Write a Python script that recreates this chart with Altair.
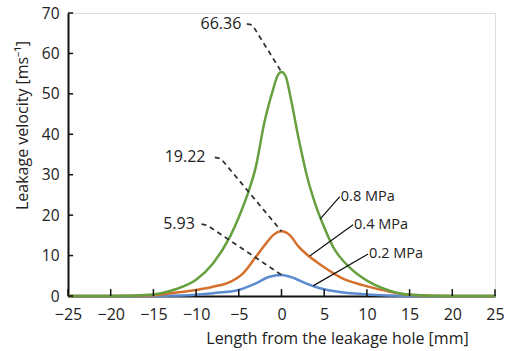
import altair as alt
import pandas as pd

# ---- data ----
x_ticks = [-25, -20, -15, -10, -5, 0, 5, 10, 15, 20, 25]
y_ticks = [0, 10, 20, 30, 40, 50, 60, 70]

series_names = ["0.2 MPa", "0.4 MPa", "0.8 MPa"]
series_colors = ["#5b8bd0", "#d5702c", "#66a03f"]

blue_x = [-25, -20, -15, -11, -8, -5, -3, -1.5, 0, 1.5, 3, 4.5, 7, 10, 15, 20, 25]
blue_y = [0, 0, 0.05, 0.2, 0.7, 1.5, 3.1, 4.7, 5.2, 4.4, 3.0, 1.9, 0.9, 0.4, 0.05, 0, 0]

orange_x = [-25, -20, -15, -12.5, -10, -8, -6, -4.5, -3, -2, -1, 0, 1, 2, 3, 4, 5, 7, 9.5, 12, 15, 20, 25]
orange_y = [0, 0, 0.2, 0.8, 1.5, 2.3, 3.5, 5.6, 9.7, 12.5, 15.0, 16.0, 15.0, 12.2, 10.2, 8.6, 7.1, 4.5, 2.7, 1.4, 0.3, 0, 0]

green_x = [-25, -20, -15, -12.5, -10, -8, -6, -5, -4, -3, -2, -1, -0.5, 0, 0.5, 1, 2, 3, 4, 5, 6, 8, 10, 12, 15, 20, 25]
green_y = [0, 0, 0.4, 1.6, 4.0, 8.1, 14.8, 19.5, 25.0, 32.0, 43.0, 51.0, 54.3, 55.4, 54.3, 49.8, 39.0, 29.5, 22.5, 17.0, 12.3, 7.0, 3.8, 1.8, 0.3, 0, 0]

peak_labels = ["66.36", "19.22", "5.93"]
peak_label_x = [-4.7, -8.9, -10.15]
peak_label_y = [67.3, 34.3, 17.8]
leader_start_x = [-4.06, -7.81, -9.37]
leader_knee_x = [-3.4, -7.1, -8.7]
leader_knee_y = [67.0, 34.0, 17.5]
peak_x = [0, 0, 0]
peak_y = [55.4, 16.0, 5.2]

mpa_labels = ["0.8 MPa", "0.4 MPa", "0.2 MPa"]
mpa_line_x = [4.52, 3.31, 3.70]
mpa_line_y = [19.0, 9.9, 2.5]
mpa_text_x = [6.83, 8.38, 10.14]
mpa_text_y = [24.6, 17.6, 10.4]

FONT = "Open Sans"

# ---- tables ----
rows = []
for name, xs, ys in zip(series_names, [blue_x, orange_x, green_x], [blue_y, orange_y, green_y]):
    for i, (a, b) in enumerate(zip(xs, ys)):
        rows.append({"series": name, "x": a, "y": b, "order": i})
curves = pd.DataFrame(rows)

lead_rows = []
for k, lab in enumerate(peak_labels):
    lead_rows.append({"id": lab, "x": leader_start_x[k], "y": peak_label_y[k], "order": 0})
    lead_rows.append({"id": lab, "x": leader_knee_x[k], "y": leader_knee_y[k], "order": 1})
    lead_rows.append({"id": lab, "x": peak_x[k], "y": peak_y[k], "order": 2})
leaders = pd.DataFrame(lead_rows)

peak_text = pd.DataFrame({"t": peak_labels, "x": peak_label_x, "y": peak_label_y})
mpa = pd.DataFrame({"t": mpa_labels, "x": mpa_line_x, "y": mpa_line_y,
                    "x2": mpa_text_x, "y2": mpa_text_y})
xt = pd.DataFrame({"x": x_ticks, "y": [0] * len(x_ticks), "y2": [1.7] * len(x_ticks)})
yt = pd.DataFrame({"y": y_ticks, "x": [-25] * len(y_ticks), "x2": [-24.4] * len(y_ticks)})

xs = alt.Scale(domain=[-25, 25], nice=False, zero=False)
ys = alt.Scale(domain=[0, 70], nice=False)

x_axis = alt.Axis(values=x_ticks, format="d", ticks=False, tickSize=0, grid=False,
                  labelFlush=False, labelOverlap=False,
                  domainColor="#111", domainWidth=2, labelPadding=10,
                  labelFont=FONT, labelFontSize=16, labelColor="#222",
                  title="Length from the leakage hole [mm]", titleFont=FONT,
                  titleFontSize=16, titleFontWeight="normal", titleColor="#222",
                  titleX=269, titleY=42, titleBaseline="middle")
y_axis = alt.Axis(values=y_ticks, format="d", ticks=False, tickSize=0, grid=False,
                  labelFlush=False, labelOverlap=False,
                  domainColor="#111", domainWidth=2, labelPadding=9,
                  labelFont=FONT, labelFontSize=15.5, labelColor="#222",
                  title="Leakage velocity [ms⁻¹]", titleFont=FONT,
                  titleFontSize=16, titleFontWeight="normal", titleColor="#222",
                  titleX=-46, titleY=112, titleBaseline="middle")

lines = alt.Chart(curves).mark_line(strokeWidth=2.5, interpolate="monotone").encode(
    x=alt.X("x:Q", scale=xs, axis=x_axis),
    y=alt.Y("y:Q", scale=ys, axis=y_axis),
    color=alt.Color("series:N", scale=alt.Scale(domain=series_names, range=series_colors), legend=None),
    order="order:Q",
)

xtick_layer = alt.Chart(xt).mark_rule(color="#111", strokeWidth=1.5).encode(
    x="x:Q", y="y:Q", y2="y2"
)
ytick_layer = alt.Chart(yt).mark_rule(color="#111", strokeWidth=1.5).encode(
    y="y:Q", x="x:Q", x2="x2"
)

leader_layer = alt.Chart(leaders).mark_line(color="#333", strokeWidth=1.8, strokeDash=[5, 4]).encode(
    x="x:Q", y="y:Q", detail="id:N", order="order:Q"
)
peak_text_layer = alt.Chart(peak_text).mark_text(
    align="right", baseline="middle", font=FONT, fontSize=16, color="#222"
).encode(x="x:Q", y="y:Q", text="t:N")

mpa_rule = alt.Chart(mpa).mark_rule(color="#111", strokeWidth=1.2).encode(
    x="x:Q", y="y:Q", x2="x2", y2="y2"
)
mpa_text_layer = alt.Chart(mpa).mark_text(
    align="left", baseline="middle", dx=1, font=FONT, fontSize=14.5, color="#222"
).encode(x="x2:Q", y="y2:Q", text="t:N")

chart = alt.layer(
    lines, leader_layer, peak_text_layer, mpa_rule, mpa_text_layer, xtick_layer, ytick_layer
).properties(
    width=427, height=283,
    autosize=alt.AutoSizeParams(type="none"),
    padding={"left": 68, "top": 13, "right": 13, "bottom": 55},
).configure_view(stroke=None).configure(background="white")

chart.save("out.html", embed_options={"renderer": "svg", "actions": False})
